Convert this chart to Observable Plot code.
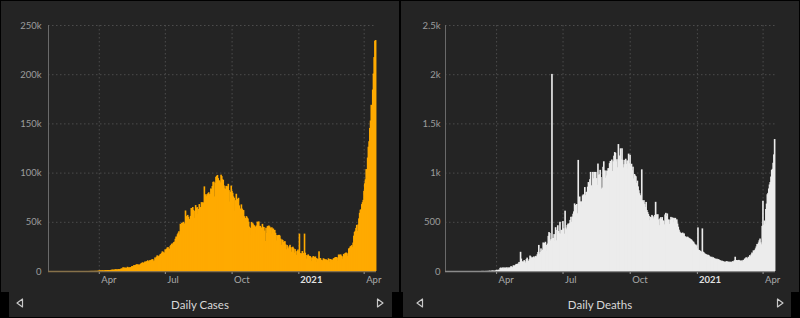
<!DOCTYPE html>
<html>
<head>
<meta charset="utf-8">
<script src="https://cdn.jsdelivr.net/npm/d3@7"></script>
<script src="https://cdn.jsdelivr.net/npm/@observablehq/plot@0.6"></script>
<style>
html,body{margin:0;padding:0;background:#000;}
#wrap{position:relative;width:800px;height:318px;overflow:hidden;background:#000;font-family:Lato,"Open Sans",sans-serif;}
.panel{position:absolute;top:1px;height:291px;background:#242424;}
.panel svg{display:block;}
.strip{position:absolute;top:292px;height:25px;background:#242424;}
.title{position:absolute;top:0;width:200px;line-height:25px;text-align:center;color:#d8d8d8;font-size:11.5px;}
#arrows{position:absolute;left:0;top:0;pointer-events:none;}
</style>
</head>
<body>
<div id="wrap">
  <div class="panel" id="p1" style="left:1px;width:398px"></div>
  <div class="panel" id="p2" style="left:401px;width:398px"></div>
  <div class="strip" style="left:9px;width:383px"><div class="title" style="left:91px">Daily Cases</div></div>
  <div class="strip" style="left:403px;width:388px"><div class="title" style="left:97px">Daily Deaths</div></div>
  <svg id="arrows" width="800" height="318">
    <g fill="none" stroke="#c8c8c8" stroke-width="1.2" stroke-linejoin="round">
      <polygon points="22.5,299 22.5,307 17,303"/>
      <polygon points="377.5,299 377.5,307 383,303"/>
      <polygon points="422.5,299 422.5,307 417,303"/>
      <polygon points="777.5,299 777.5,307 783,303"/>
    </g>
  </svg>
</div>
<script>
// ---------- axis / tick data ----------
const xDomain = [new Date("2020-01-22"), new Date("2021-04-18")];
const xTickDates = ["2020-04-01","2020-07-01","2020-10-01","2021-01-01","2021-04-01"].map(s => new Date(s));
const xTickLabels = ["Apr","Jul","Oct","2021","Apr"];
const xTickBold = [false,false,false,true,false];

const casesTicks = [0,50000,100000,150000,200000,250000];
const casesTickLabels = ["0","50k","100k","150k","200k","250k"];
const deathsTicks = [0,500,1000,1500,2000,2500];
const deathsTickLabels = ["0","500","1k","1.5k","2k","2.5k"];

// month start [year, monthIndex, firstDay]
const monthStarts = [[2020,0,22],[2020,1,1],[2020,2,1],[2020,3,1],[2020,4,1],[2020,5,1],[2020,6,1],[2020,7,1],[2020,8,1],[2020,9,1],[2020,10,1],[2020,11,1],[2021,0,1],[2021,1,1],[2021,2,1],[2021,3,1]];

// ---------- daily cases (thousands) ----------
const casesJan20 = [0,0,0,0,0,0,0,0,0.001,0];
const casesFeb20 = [0,0.001,0.001,0,0,0,0,0,0,0,0,0,0,0,0,0,0,0,0,0,0,0,0,0,0,0,0,0,0];
const casesMar20 = [0,0.002,0.001,0.022,0.002,0.001,0.003,0.005,0.004,0.013,0.006,0.011,0.009,0.020,0.011,0.006,0.023,0.014,0.038,0.050,0.086,0.066,0.103,0.037,0.121,0.070,0.160,0.100,0.112,0.227,0.146];
const casesApr20 = [0.6,0.5,0.6,0.6,0.5,0.7,0.5,0.5,0.8,0.9,0.8,0.9,1.0,1.0,0.9,0.9,1.1,1.2,1.5,1.2,1.4,1.4,1.6,1.8,1.6,1.6,1.6,1.9,1.8,1.8];
const casesMay20 = [2.4,2.6,2.6,3.9,2.9,3.6,3.3,3.3,3.1,4.3,3.6,3.5,3.7,3.9,3.8,4.9,5.0,4.6,6.1,5.6,6.1,6.6,6.8,6.7,6.5,6.4,6.4,7.2,8.0,8.4,8.8];
const casesJun20 = [8.4,8.2,9.6,9.3,9.9,9.9,10.9,9.9,9.9,11.1,10.9,11.4,12.0,11.9,10.0,10.7,13.8,12.9,14.5,15.9,15.4,14.8,15.7,16.9,17.3,18.2,19.9,19.6,18.6,18.7];
const casesJul20 = [22.0,20.9,22.7,24.0,24.2,22.3,22.8,25.6,26.5,27.8,27.1,28.6,29.4,29.9,32.7,35.0,34.8,37.4,38.9,40.4,37.1,48.0,47.0,48.9,49.0,50.0,46.5,48.5,61.5,55.1,56.0];
const casesAug20 = [57,55,53,52,56,64,62,65,62,54,61,67,64,65,58,63,68,56,65,70,69,70,69,86,75,78,76,78,79,80,78];
const casesSep20 = [78.4,83.9,83.3,86.4,90.6,90.8,75.8,89.7,95.7,96.6,97.6,94.4,92.1,92.0,90.1,97.9,96.4,93.3,92.6,87.0,84.0,83.3,86.5,86.1,86.0,88.6,82.2,70.6,80.5,86.8];
const casesOct20 = [81.5,79.5,75.8,74.4,61.3,72.0,78.5,70.5,73.3,74.4,66.7,55.3,63.5,67.7,63.4,62.2,61.9,55.7,46.8,54.0,55.8,54.4,53.4,50.1,45.1,36.5,43.9,49.9,48.6,48.3,46.9];
const casesNov20 = [46.3,45.2,38.3,46.3,50.2,47.6,50.4,45.7,45.9,38.1,44.3,47.9,44.9,44.7,41.1,30.5,44.0,38.6,45.6,45.9,46.2,45.2,44.1,37.9,44.4,43.1,43.1,41.3,41.8,38.8];
const casesDec20 = [31.1,36.6,35.6,36.6,36.7,36.0,32.9,26.6,32.1,31.5,29.4,30.0,30.3,27.1,22.1,26.4,24.0,22.9,25.2,26.6,24.3,19.6,23.9,24.7,23.1,18.7,22.3,20.0,16.4,20.5,21.8];
const casesJan21 = [20.0,38.0,18.2,16.5,18.1,20.3,18.2,18.1,38.0,18.6,16.3,12.6,15.9,16.9,15.6,15.2,15.1,13.8,10.1,13.8,15.2,14.5,14.3,14.8,13.2,9.1,12.7,12.0,20.0,13.1,13.1];
const casesFeb21 = [11.4,8.6,11.0,12.9,12.4,11.7,11.8,11.8,9.1,11.1,12.9,9.3,12.2,12.2,11.6,9.1,11.6,12.9,13.2,13.9,14.2,14.2,10.6,13.7,16.7,16.6,16.5,16.8];
const casesMar21 = [15.5,12.3,14.9,17.4,16.8,18.3,18.7,18.6,15.4,17.9,22.9,23.3,24.9,25.3,26.3,24.5,28.9,35.9,39.7,40.9,43.8,46.9,40.7,47.3,53.5,59.1,62.3,62.7,68.0,70.0,72.3];
const casesApr21 = [81.5,89.1,93.2,103.6,96.6,115.3,126.3,131.9,145.4,152.9,168.9,161.7,184.4,200.7,217.4,234.0,234.7];

// ---------- daily deaths ----------
const deathsJan20 = [0,0,0,0,0,0,0,0,0,0];
const deathsFeb20 = [0,0,0,0,0,0,0,0,0,0,0,0,0,0,0,0,0,0,0,0,0,0,0,0,0,0,0,0,0];
const deathsMar20 = [0,0,0,0,0,0,0,0,0,0,0,1,0,1,0,0,1,0,1,1,0,3,2,1,2,5,3,4,2,3,5];
const deathsApr20 = [12,3,12,13,12,32,35,29,33,37,26,35,35,29,38,27,37,23,36,38,50,41,38,56,58,51,62,72,62,73];
const deathsMay20 = [77,92,68,195,126,88,99,95,111,99,83,122,136,104,103,120,157,148,134,140,132,148,137,147,154,146,170,194,265,175,193];
const deathsJun20 = [230,204,217,290,273,286,297,206,265,279,357,396,386,311,325,2003,334,336,375,306,445,312,418,465,407,384,500,380,418,418];
const deathsJul20 = [507,434,379,613,442,425,467,482,475,487,519,551,500,553,582,606,687,671,543,681,587,1129,740,757,705,708,654,768,779,764,853];
const deathsAug20 = [771,803,806,857,904,886,933,1007,871,834,1007,942,1007,996,1007,944,876,1092,977,983,1028,955,836,848,1059,1115,1023,948,1021,971,1019];
const deathsSep20 = [1045,1043,1096,1119,1089,1133,1016,1115,1172,1209,1201,1114,1136,1054,1290,1132,1174,1247,1133,1247,1130,1053,1085,1129,1141,1089,1124,1039,1193,1095];
const deathsOct20 = [1181,1069,1090,1024,1060,940,986,971,963,895,918,860,821,790,770,760,1033,720,705,720,680,650,702,620,600,580,560,517,551,543,570];
const deathsNov20 = [560,535,550,570,703,577,559,577,525,466,534,547,530,548,515,510,474,575,591,560,585,517,525,480,520,550,534,545,496,540];
const deathsDec20 = [534,540,500,525,482,450,420,400,390,382,385,391,380,382,355,350,340,348,348,340,333,331,325,320,310,300,297,280,264,270,260];
const deathsJan21 = [230,443,215,213,205,200,196,433,196,190,180,175,170,168,162,165,160,150,145,140,145,135,140,130,128,125,120,125,118,120,115];
const deathsFeb21 = [110,108,100,105,100,98,95,88,95,100,98,92,96,90,95,92,90,98,100,95,110,145,105,112,108,110,113,108];
const deathsMar21 = [106,100,108,98,113,108,125,130,140,133,126,145,140,161,150,170,188,180,210,200,215,230,250,275,270,290,312,330,291,271,459];
const deathsApr21 = [714,469,513,478,630,685,780,794,839,879,904,960,1027,1038,1100,1185,1341];

const casesMonths = [casesJan20,casesFeb20,casesMar20,casesApr20,casesMay20,casesJun20,casesJul20,casesAug20,casesSep20,casesOct20,casesNov20,casesDec20,casesJan21,casesFeb21,casesMar21,casesApr21];
const deathsMonths = [deathsJan20,deathsFeb20,deathsMar20,deathsApr20,deathsMay20,deathsJun20,deathsJul20,deathsAug20,deathsSep20,deathsOct20,deathsNov20,deathsDec20,deathsJan21,deathsFeb21,deathsMar21,deathsApr21];

function buildSeries(monthArrays, factor) {
  const rows = [];
  monthArrays.forEach((arr, mi) => {
    const [y, m, d0] = monthStarts[mi];
    arr.forEach((v, i) => {
      const date = new Date(Date.UTC(y, m, d0 + i));
      rows.push({date, next: d3.utcDay.offset(date, 1), value: v * factor});
    });
  });
  return rows;
}

const casesData = buildSeries(casesMonths, 1000);
const deathsData = buildSeries(deathsMonths, 1);

const xTickRows = xTickDates.map((date, i) => ({date, label: xTickLabels[i], bold: xTickBold[i]}));

function chart({data, ticks, tickLabels, color, baseColor, marginLeft, marginRight, tickPadding}) {
  const labelOf = new Map(ticks.map((t, i) => [t, tickLabels[i]]));
  return Plot.plot({
    width: 398, height: 291,
    marginLeft, marginRight, marginTop: 24, marginBottom: 21,
    style: {background: "transparent", color: "#9c9c9c", fontFamily: "Lato, 'Open Sans', sans-serif", fontSize: "9.5px", overflow: "visible"},
    x: {type: "utc", domain: xDomain, ticks: xTickDates, tickFormat: () => "", tickSize: 3, label: null},
    y: {domain: [ticks[0], ticks[ticks.length - 1]], ticks, tickFormat: d => labelOf.get(d), tickSize: 0, tickPadding, label: null},
    marks: [
      Plot.ruleY(ticks.slice(1), {stroke: "#4c4c4c", strokeDasharray: "1.5,2.5"}),
      Plot.ruleX(xTickDates, {stroke: "#4c4c4c", strokeDasharray: "1.5,2.5"}),
      Plot.ruleX([xDomain[0]], {stroke: "#6a6a6a"}),
      Plot.ruleY([0], {stroke: baseColor, strokeWidth: 1.5}),
      Plot.rectY(data, {x1: "date", x2: "next", y: "value", fill: color, insetLeft: -0.45, insetRight: -0.45}),
      Plot.text(xTickRows, {filter: d => !d.bold, x: "date", text: "label", frameAnchor: "bottom", dy: 11, dx: 2, textAnchor: "start", fill: "#aaaaaa", fontSize: 9.5}),
      Plot.text(xTickRows, {filter: d => d.bold, x: "date", text: "label", frameAnchor: "bottom", dy: 11, dx: 1.5, textAnchor: "start", fill: "#e2e2e2", fontWeight: "bold", fontSize: 9.5})
    ]
  });
}

document.getElementById("p1").appendChild(chart({
  data: casesData, ticks: casesTicks, tickLabels: casesTickLabels,
  color: "#FFAA00", baseColor: "#86714a", marginLeft: 47, marginRight: 23, tickPadding: 7
}));
document.getElementById("p2").appendChild(chart({
  data: deathsData, ticks: deathsTicks, tickLabels: deathsTickLabels,
  color: "#ECECEC", baseColor: "#8a8a8a", marginLeft: 44, marginRight: 24, tickPadding: 5
}));
</script>
</body>
</html>
